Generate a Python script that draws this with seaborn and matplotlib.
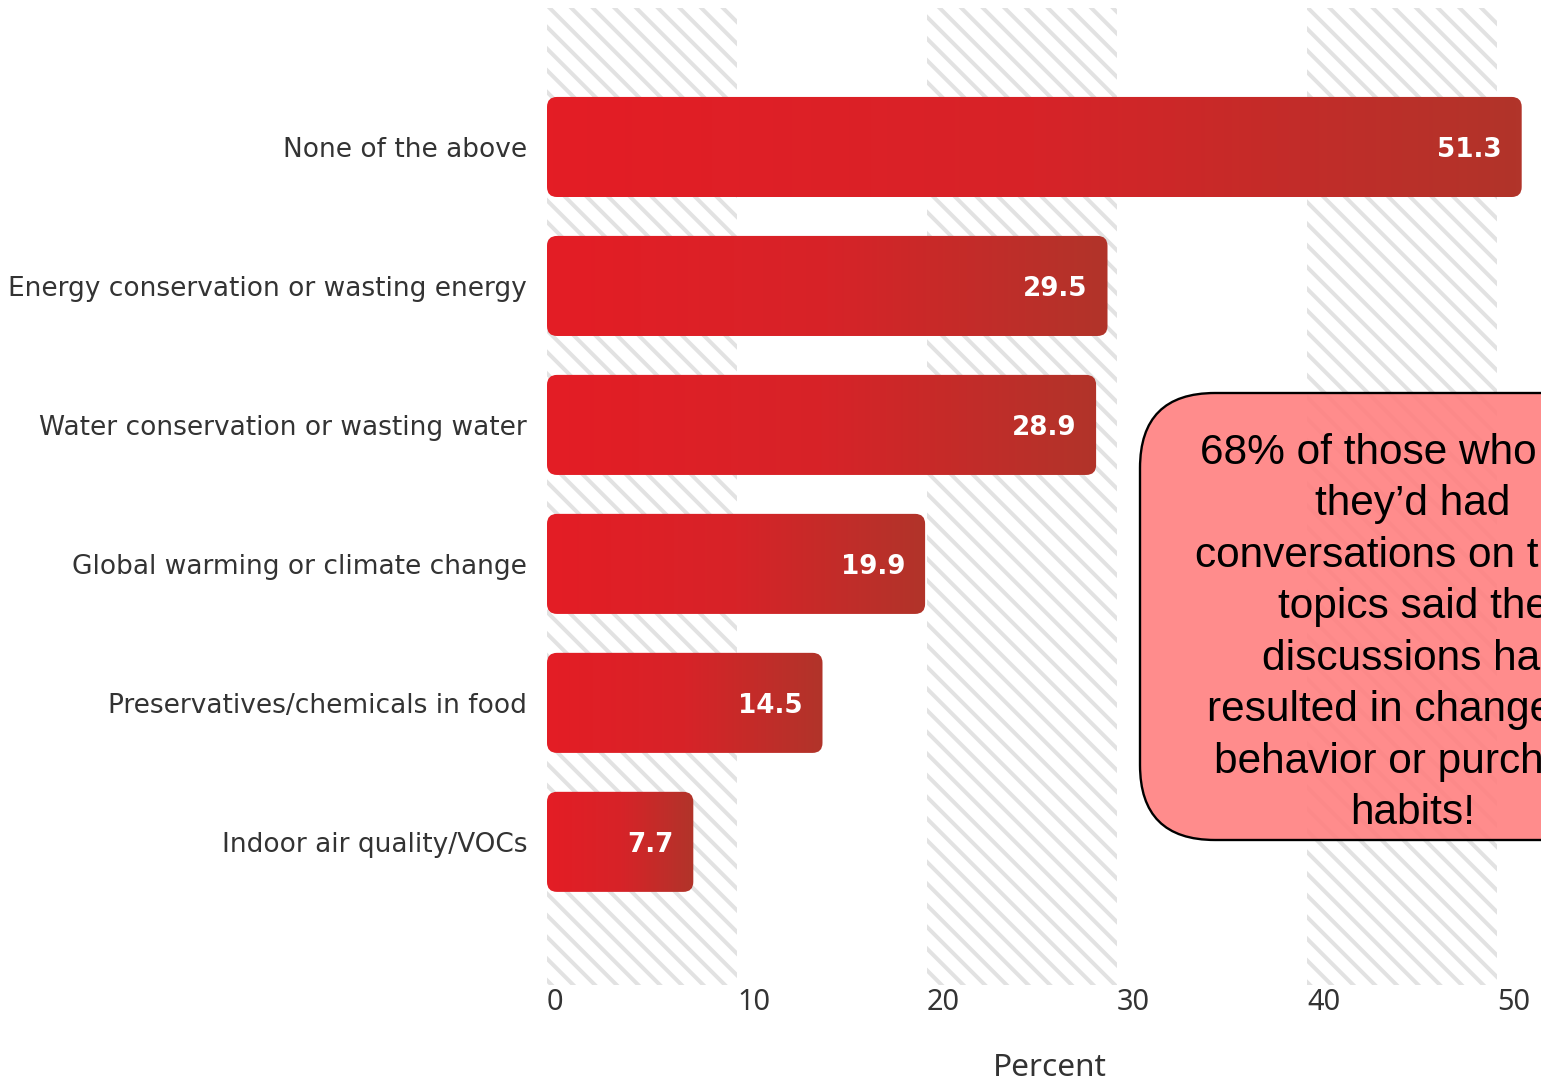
import numpy as np
import pandas as pd
import matplotlib
matplotlib.use("Agg")
import matplotlib.pyplot as plt
import seaborn as sns
from matplotlib.patches import FancyBboxPatch
from matplotlib.colors import LinearSegmentedColormap
from matplotlib.transforms import IdentityTransform

# ---- data -------------------------------------------------------------
categories = [
    "None of the above",
    "Energy conservation or wasting energy",
    "Water conservation or wasting water",
    "Global warming or climate change",
    "Preservatives/chemicals in food",
    "Indoor air quality/VOCs",
]
percent = [51.3, 29.5, 28.9, 19.9, 14.5, 7.7]
x_ticks = [0, 10, 20, 30, 40, 50]
callout_lines = [
    "68% of those who said",
    "they\u2019d had",
    "conversations on these",
    "topics said the",
    "discussions had",
    "resulted in changes in",
    "behavior or purchase",
    "habits!",
]

df = pd.DataFrame({"topic": categories, "percent": percent})

# ---- figure -----------------------------------------------------------
DPI = 130
W, H = 1541, 1082
sns.set_theme(style="white")
plt.rcParams["font.family"] = ["Noto Sans", "DejaVu Sans"]
plt.rcParams["hatch.linewidth"] = 2.2

# axes span 0..52 so the longest bar is not cut; 19 px per percent
XLIM = (0, 52)
YLIM = (6.03, -1.0)
AX_W = 52 * 19
AX_H = 977
fig = plt.figure(figsize=(W / DPI, H / DPI), dpi=DPI, facecolor="white")
ax = fig.add_axes([547 / W, (H - 985) / H, AX_W / W, AX_H / H])
ax.set_facecolor("white")

# striped background bands
for lo in (0, 20, 40):
    ax.axvspan(lo, lo + 10, facecolor="white", edgecolor="#e2e2e2",
               hatch="\\\\", linewidth=0, zorder=0)

sns.barplot(data=df, x="percent", y="topic", orient="h", ax=ax,
            color="#d42027", width=0.72, zorder=2)

ax.set_xlim(*XLIM)
ax.set_ylim(*YLIM)

# rounded bars with a left-to-right red gradient
cmap = LinearSegmentedColormap.from_list("bar_red", ["#e41d25", "#d72328", "#b1342a"])
grad = np.linspace(0, 1, 256).reshape(1, -1)
x_per_px = (XLIM[1] - XLIM[0]) / AX_W
y_per_px = (YLIM[0] - YLIM[1]) / AX_H
radius_px = 10
for bar in ax.containers[0]:
    x0, y0 = bar.get_x(), bar.get_y()
    w, h = bar.get_width(), bar.get_height()
    bar.set_visible(False)
    rounded = FancyBboxPatch(
        (x0, y0), w, h,
        boxstyle=f"round,pad=0,rounding_size={radius_px * x_per_px}",
        mutation_aspect=y_per_px / x_per_px,
        facecolor="none", edgecolor="none", zorder=2,
    )
    ax.add_patch(rounded)
    im = ax.imshow(grad, cmap=cmap, aspect="auto", extent=(x0, x0 + w, y0 + h, y0),
                   zorder=2, interpolation="bilinear")
    im.set_clip_path(rounded)

ax.set_xlim(*XLIM)
ax.set_ylim(*YLIM)

# value labels inside the bar ends
for i, v in enumerate(percent):
    ax.annotate(f"{v}", xy=(v, i), xytext=(-11, 0), textcoords="offset points",
                ha="right", va="center_baseline", color="white", fontsize=14.5,
                fontweight="bold", family=["DejaVu Sans"], zorder=5)

# axes cosmetics
sns.despine(ax=ax, left=True, bottom=True)
ax.set_xticks(x_ticks)
ax.set_xticklabels([str(t) for t in x_ticks])
for lbl in ax.get_xticklabels():
    lbl.set_horizontalalignment("left")
ax.tick_params(axis="x", length=0, pad=1.5, labelsize=16, labelcolor="#333333")
ax.tick_params(axis="y", length=0, pad=11, labelsize=14.6, labelcolor="#333333")
for lbl in ax.get_yticklabels():
    lbl.set_family(["DejaVu Sans"])
ax.set_ylabel("")
ax.set_xlabel("Percent", fontsize=17.5, color="#333333")
ax.xaxis.set_label_coords((1050 - 547) / AX_W, (985 - 1068) / AX_H)
ax.xaxis.label.set_verticalalignment("center")
ax.grid(False)

# callout box
box = FancyBboxPatch((1140, H - 840), 600, 447,
                     boxstyle="round,pad=0,rounding_size=75",
                     transform=IdentityTransform(), facecolor="#ff8080",
                     alpha=0.9, edgecolor="none", zorder=10)
fig.add_artist(box)
box_edge = FancyBboxPatch((1140, H - 840), 600, 447,
                          boxstyle="round,pad=0,rounding_size=75",
                          transform=IdentityTransform(), facecolor="none",
                          edgecolor="black", linewidth=1.3, zorder=11)
fig.add_artist(box_edge)
fig.text(1413, H - 633, "\n".join(callout_lines), transform=IdentityTransform(),
         ha="center", va="center", multialignment="center", fontsize=23.5,
         family=["Liberation Sans", "DejaVu Sans"], color="black",
         linespacing=1.37, zorder=12)

fig.savefig("out.png", dpi=DPI, facecolor="white")
